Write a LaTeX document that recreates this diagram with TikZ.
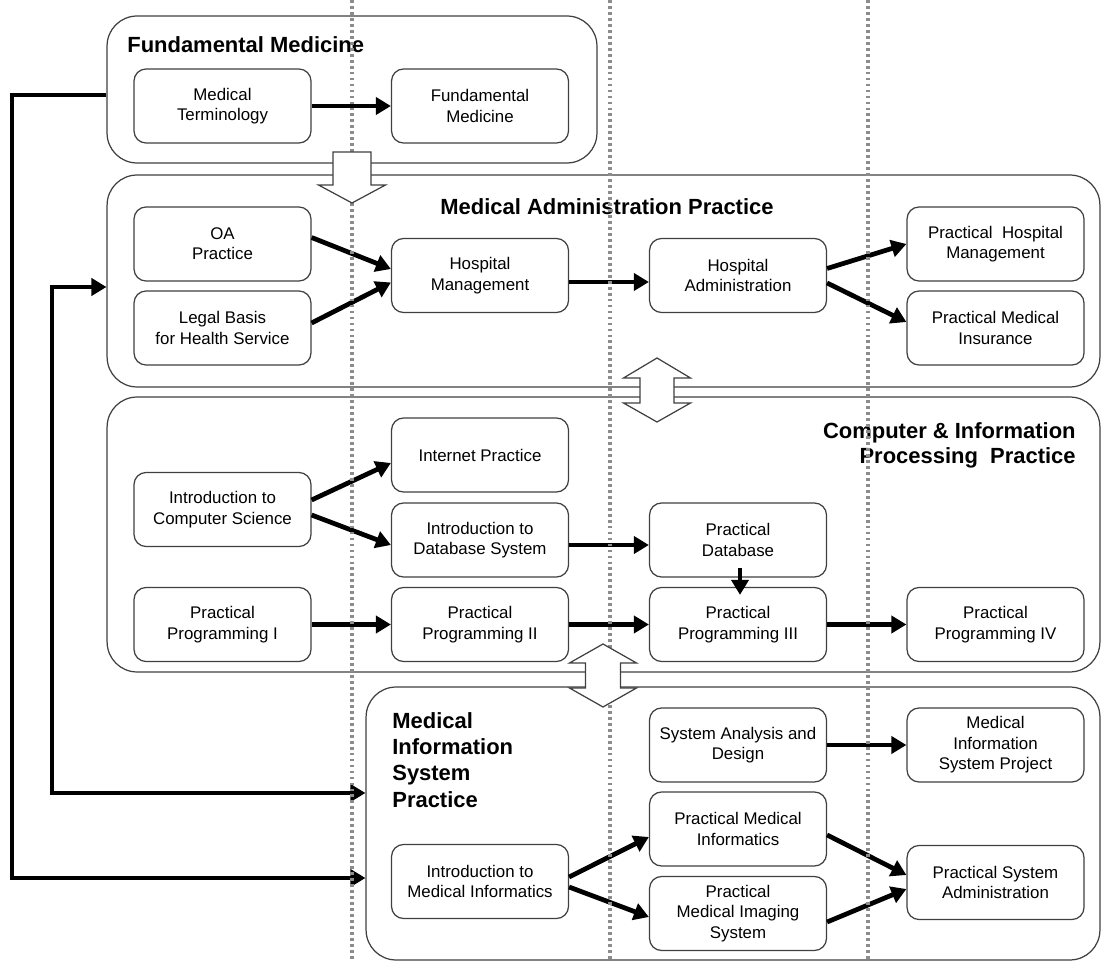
\documentclass[tikz,border=0pt]{standalone}
\usepackage{fontspec}
\setmainfont{Liberation Sans}
\usetikzlibrary{arrows.meta}

\begin{document}
\begin{tikzpicture}[x=0.02cm,y=-0.02cm,
    panel/.style={draw=black!75,line width=0.7pt,rounded corners=0.6cm,fill=white},
    course/.style={draw=black!75,line width=0.7pt,rounded corners=0.24cm,fill=white,
      minimum width=3.54cm,minimum height=1.48cm,align=center,inner sep=1pt,
      font=\fontsize{9.6}{11.6}\selectfont},
    heading/.style={inner sep=0pt,font=\fontsize{12.5}{14.6}\selectfont\bfseries},
    link/.style={line width=2.7pt,-{Triangle[length=0.3cm,width=0.34cm]}},
    guide/.style={draw=black!45,line width=2.2pt,dash pattern=on 1.6pt off 1.8pt},
    bigarrow/.style={draw=black!75,line width=0.7pt,fill=white,line join=miter}]

      \useasboundingbox (0,0) rectangle (1102,962);

      % the four practice areas
      \node[panel,minimum width=9.8cm,minimum height=2.94cm] (fmp) at (352,89.5) {};
      \node[panel,minimum width=19.86cm,minimum height=4.24cm] (map) at (603.5,281) {};
      \node[panel,minimum width=19.86cm,minimum height=5.5cm] (cipp) at (603.5,534.5) {};
      \node[panel,minimum width=14.68cm,minimum height=5.46cm] (misp) at (733,823.5) {};

      \node[heading,anchor=west] (fmt) at (127,45) {Fundamental Medicine};
      \node[heading] (mat) at (607,207) {Medical Administration Practice};
      \node[heading,anchor=north east,align=right] (cipt) at (1076,422) {Computer \& Information\\Processing~~Practice};
      \node[heading,anchor=north west,align=left,font=\fontsize{12.5}{15}\selectfont\bfseries] (mist) at (392,712) {Medical\\Information\\System\\Practice};

      \begin{scope}[every node/.style={course}]
        \node (mt) at (222.5,106) {Medical\\Terminology};
        \node (fmc) at (480,106) {Fundamental\\Medicine};

        \node (oa) at (222.5,244) {OA\\Practice};
        \node (lb) at (222.5,328) {Legal Basis\\for Health Service};
        \node (hm) at (480,275.5) {Hospital\\Management};
        \node (ha) at (738,275.5) {Hospital\\Administration};
        \node (phm) at (995.5,244) {Practical~~Hospital\\Management};
        \node (pmins) at (995.5,328) {Practical Medical\\Insurance};

        \node (ip) at (480,455) {Internet Practice};
        \node (ics) at (222.5,509.5) {Introduction to\\Computer Science};
        \node (ids) at (480,540) {Introduction to\\Database System};
        \node (pdb) at (738,540) {Practical\\Database};
        \node (pp1) at (222.5,624.5) {Practical\\Programming I};
        \node (pp2) at (480,624.5) {Practical\\Programming II};
        \node (pp3) at (738,624.5) {Practical\\Programming III};
        \node (pp4) at (995.5,624.5) {Practical\\Programming IV};

        \node (sad) at (738,745) {System Analysis and\\Design};
        \node (misproj) at (995.5,745) {Medical\\Information\\System Project};
        \node (pmed) at (738,829) {Practical Medical\\Informatics};
        \node (pmis) at (738,913.5) {Practical\\Medical Imaging\\System};
        \node (imi) at (480,881.5) {Introduction to\\Medical Informatics};
        \node (psa) at (995.5,882.5) {Practical System\\Administration};
      \end{scope}

      \begin{scope}[every edge/.style={draw,link}]
        \path (mt) edge (fmc);

        \path ([yshift=0.13cm]oa.east) edge ([yshift=0.13cm]hm.west);
        \path ([yshift=0.1cm]lb.east) edge ([yshift=-0.14cm]hm.west);
        \path ([yshift=-0.13cm]hm.east) edge ([yshift=-0.13cm]ha.west);
        \path ([yshift=0.14cm]ha.east) edge (phm.west);
        \path ([yshift=-0.15cm]ha.east) edge ([yshift=0.12cm]pmins.west);

        \path ([yshift=0.19cm]ics.east) edge ([yshift=-0.16cm]ip.west);
        \path ([yshift=-0.11cm]ics.east) edge ([yshift=-0.1cm]ids.west);
        \path ([yshift=-0.1cm]ids.east) edge ([yshift=-0.1cm]pdb.west);
        \path ([xshift=0.04cm,yshift=0.2cm]pdb.south) edge ([xshift=0.04cm,yshift=-0.16cm]pp3.north);
        \path (pp1) edge (pp2);
        \path (pp2) edge (pp3);
        \path (pp3) edge (pp4);

        \path (sad) edge (misproj);
        \path ([yshift=0.09cm]imi.east) edge ([yshift=-0.16cm]pmed.west);
        \path ([yshift=-0.11cm]imi.east) edge ([yshift=-0.07cm]pmis.west);
        \path ([yshift=-0.12cm]pmed.east) edge ([yshift=0.15cm]psa.west);
        \path ([yshift=-0.17cm]pmis.east) edge ([yshift=-0.13cm]psa.west);
      \end{scope}

      % feedback lines on the left
      \coordinate (outtop) at (12,95);
      \coordinate (outbot) at (12,878);
      \coordinate (intop) at (52,287);
      \coordinate (inbot) at (52,793);
      \draw[link,line join=miter] (fmp.west |- outtop) -- (outtop) -- (outbot) -- (misp.west |- outbot);
      \draw[link,{Triangle[length=0.3cm,width=0.34cm]}-{Triangle[length=0.3cm,width=0.34cm]},line join=miter]
        (map.west |- intop) -- (intop) -- (inbot) -- (misp.west |- inbot);

      % dotted column guides
      \foreach \x in {352,610,868}
        \draw[guide] (\x,0) -- (\x,962);

      % block arrows between areas
      \draw[bigarrow] (333,152) -- (371,152) -- (371,185) -- (385.5,185) -- (352,203)
        -- (318.5,185) -- (333,185) -- cycle;
      \draw[bigarrow] (657,358) -- (690.5,378) -- (674,378) -- (674,403) -- (690.5,403)
        -- (657,422) -- (623.5,403) -- (640,403) -- (640,378) -- (623.5,378) -- cycle;
      \draw[bigarrow] (603,644) -- (636.5,663) -- (620.5,663) -- (620.5,688) -- (636.5,688)
        -- (603,707) -- (569.5,688) -- (585.5,688) -- (585.5,663) -- (569.5,663) -- cycle;

    \end{tikzpicture}
\end{document}
